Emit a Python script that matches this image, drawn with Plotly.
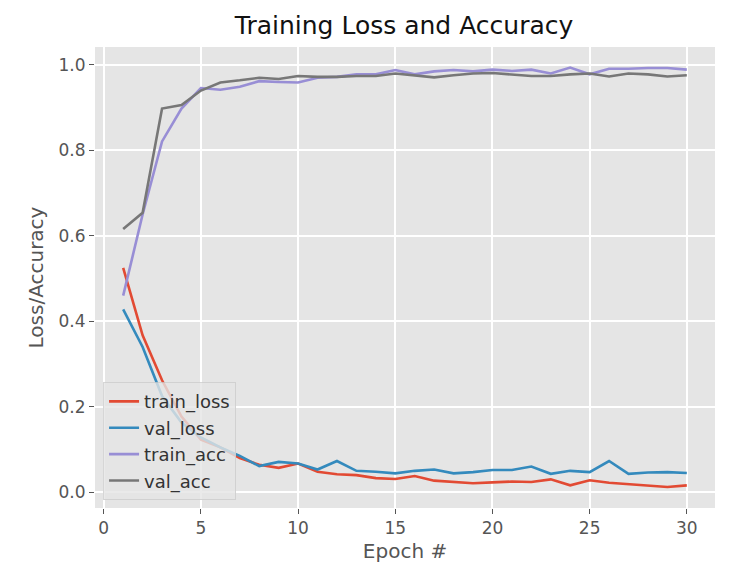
import plotly.graph_objects as go

epochs = list(range(1, 31))

train_loss = [0.525, 0.367, 0.262, 0.177, 0.123, 0.105, 0.08, 0.064, 0.057, 0.067,
              0.048, 0.042, 0.040, 0.033, 0.031, 0.038, 0.027, 0.024, 0.021, 0.023,
              0.025, 0.024, 0.030, 0.016, 0.028, 0.022, 0.019, 0.015, 0.012, 0.016]
val_loss = [0.428, 0.340, 0.225, 0.163, 0.128, 0.105, 0.085, 0.061, 0.071, 0.067,
            0.053, 0.073, 0.050, 0.048, 0.044, 0.050, 0.053, 0.044, 0.047, 0.052,
            0.052, 0.060, 0.043, 0.050, 0.047, 0.073, 0.043, 0.046, 0.047, 0.045]
train_acc = [0.460, 0.650, 0.821, 0.898, 0.946, 0.942, 0.949, 0.962, 0.960, 0.959,
             0.970, 0.972, 0.978, 0.978, 0.988, 0.978, 0.985, 0.988, 0.985, 0.989,
             0.986, 0.989, 0.980, 0.994, 0.978, 0.991, 0.991, 0.993, 0.993, 0.989]
val_acc = [0.616, 0.654, 0.898, 0.906, 0.940, 0.959, 0.964, 0.970, 0.967, 0.974,
           0.972, 0.972, 0.974, 0.974, 0.980, 0.976, 0.971, 0.976, 0.980, 0.981,
           0.978, 0.974, 0.974, 0.978, 0.980, 0.973, 0.980, 0.978, 0.973, 0.976]

series = [
    ("train_loss", train_loss, "#E24A33"),
    ("val_loss", val_loss, "#348ABD"),
    ("train_acc", train_acc, "#988ED5"),
    ("val_acc", val_acc, "#777777"),
]

fig = go.Figure()
for name, vals, color in series:
    fig.add_trace(go.Scatter(x=epochs, y=vals, mode="lines", name=name,
                             line=dict(color=color, width=2.6)))

# page body has an 8px margin, so the margins below are shifted to match
fig.update_layout(
    width=753, height=583,
    margin=dict(l=87, r=46, t=39, b=83),
    paper_bgcolor="white",
    plot_bgcolor="#E5E5E5",
    font=dict(family="DejaVu Sans", color="#555555", size=17),
    title=dict(text="Training Loss and Accuracy", x=0.526, xanchor="center",
               y=0.971, yanchor="middle",
               font=dict(size=25, color="#111111")),
    xaxis=dict(title=dict(text="Epoch #", font=dict(size=20), standoff=6),
               range=[-0.45, 31.45], tickvals=[0, 5, 10, 15, 20, 25, 30],
               showgrid=True, gridcolor="white", gridwidth=1.5, zeroline=False,
               ticks="outside", ticklen=5, tickcolor="#555555",
               automargin=False),
    yaxis=dict(title=dict(text="Loss/Accuracy", font=dict(size=20), standoff=9),
               range=[-0.037, 1.042], tickvals=[0, 0.2, 0.4, 0.6, 0.8, 1.0],
               tickformat=".1f",
               showgrid=True, gridcolor="white", gridwidth=1.5, zeroline=False,
               ticks="outside", ticklen=5, tickcolor="#555555",
               automargin=False),
    legend=dict(x=0.013, y=0.017, xanchor="left", yanchor="bottom",
                bgcolor="rgba(229,229,229,0.8)", bordercolor="rgba(204,204,204,0.8)",
                borderwidth=1, font=dict(size=18, color="#333333")),
)

fig.write_html("out.html")
